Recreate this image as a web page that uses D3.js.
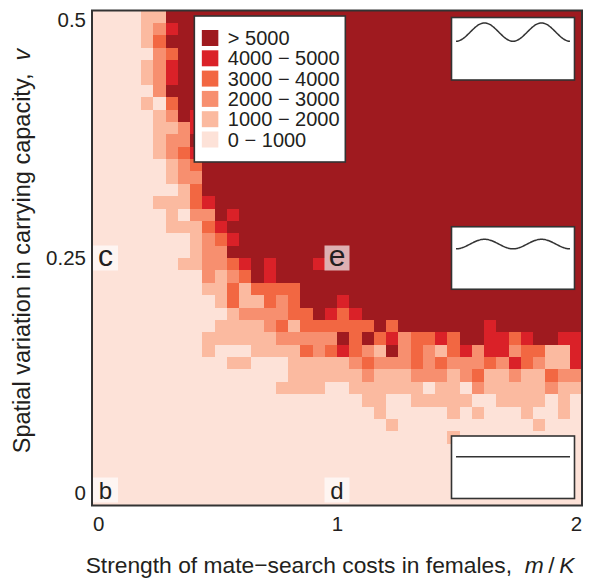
<!DOCTYPE html>
<html>
<head>
<meta charset="utf-8">
<script src="https://cdn.jsdelivr.net/npm/d3@7"></script>
<style>
  body { margin: 0; background: #fff; }
  svg text { font-family: "Liberation Sans", Arial, Helvetica, sans-serif; fill: #231f20; }
</style>
</head>
<body>
<svg id="chart" width="589" height="583"></svg>
<script>
// grid of the simulation: 40 values of m/K and 40 values of v
const mValues = d3.range(40).map(i => i * 2 / 39);
const vValues = d3.range(40).map(i => i * 0.5 / 39);

// abundance class per cell, one string per row, top row (v = 0.5) first
// 0: 0-1000, 1: 1000-2000, 2: 2000-3000, 3: 3000-4000, 4: 4000-5000, 5: > 5000
const levelRows = [
  '0000115555 5555555555 5555555555 5555555555',
  '0000124555 5555555555 5555555555 5555555555',
  '0000135555 5555555555 5555555555 5555555555',
  '0000023555 5555555555 5555555555 5555555555',
  '0000124555 5555555555 5555555555 5555555555',
  '0000124555 5555555555 5555555555 5555555555',
  '0000025555 5555555555 5555555555 5555555555',
  '0000103555 5555555555 5555555555 5555555555',
  '0000012545 5555555555 5555555555 5555555555',
  '0000011245 5555555555 5555555555 5555555555',
  '0000012255 5555555555 5555555555 5555555555',
  '0000012345 5555555555 5555555555 5555555555',
  '0000001235 5555555555 5555555555 5555555555',
  '0000001225 5555555555 5555555555 5555555555',
  '0000000135 5555555555 5555555555 5555555555',
  '0000011134 5555555555 5555555555 5555555555',
  '0000001022 5455555555 5555555555 5555555555',
  '0000001113 4555555555 5555555555 5555555555',
  '0000000012 3455555555 5555555555 5555555555',
  '0000000012 2555555555 5555555555 5555555555',
  '0000000112 2345455545 5555555555 5555555555',
  '0000000002 1235455555 5555555555 5555555555',
  '0000000001 1313333555 5555555555 5555555555',
  '0000000000 1311323555 4555555555 5555555555',
  '0000000000 0122223354 3455555555 5555555555',
  '0000000000 1111231333 3335355555 5545555555',
  '0000000001 1111122222 5353423343 5544345544',
  '0000000001 0001111323 4321523213 4244233114',
  '0000000000 0110001111 1232223232 2232432114',
  '0000000000 0000001111 1121112221 2311211322',
  '0000000000 0000011110 0111111011 0211111211',
  '0000000000 0000000000 0011001111 1001111010',
  '0000000000 0000000000 0001000001 0100010010',
  '0000000000 0000000000 0000100000 0000001000',
  '0000000000 0000000000 0000000001 0000000000',
  '0000000000 0000000000 0000000000 0000000000',
  '0000000000 0000000000 0000000000 0000000000',
  '0000000000 0000000000 0000000000 0000000000',
  '0000000000 0000000000 0000000000 0000000000',
  '0000000000 0000000000 0000000000 0000000000'
];

const levelColors = ['#fde2d8', '#fbbaa0', '#f78f6f', '#f26742', '#da2128', '#9f1a1f'];
const legendLabels = ['> 5000', '4000 \u2212 5000', '3000 \u2212 4000', '2000 \u2212 3000', '1000 \u2212 2000', '0 \u2212 1000'];
const legendLevels = [5, 4, 3, 2, 1, 0];

const xTicks = [0, 1, 2];
const yTicks = [0, 0.25, 0.5];

// panel letters (m, v)
const panelLabels = [
  { text: 'b', m: 0, v: 0, size: 24 },
  { text: 'c', m: 0, v: 0.25, size: 30 },
  { text: 'd', m: 1, v: 0, size: 24 },
  { text: 'e', m: 1, v: 0.25, size: 30 }
];

// insets: carrying capacity landscape for v = 0.5, 0.25, 0
const insetV = [0.5, 0.25, 0];
const insetPeak = [1.37, 1.2, 1];
const insetTrough = [0.93, 0.97, 1];

const margin = { top: 10.5, right: 7, bottom: 77.5, left: 92 };
const width = 589 - margin.left - margin.right;
const height = 583 - margin.top - margin.bottom;

const mStep = 2 / 39;
const vStep = 0.5 / 39;

const svg = d3.select('#chart');
const wrapper = svg.append('g')
  .attr('transform', `translate(${margin.left}, ${margin.top})`);

const x = d3.scaleLinear()
  .domain([-mStep / 2, 2 + mStep / 2])
  .range([0, width]);

const y = d3.scaleLinear()
  .domain([-vStep / 2, 0.5 + vStep / 2])
  .range([height, 0]);

const color = d3.scaleOrdinal()
  .domain(d3.range(6))
  .range(levelColors);

const cells = [];
levelRows.forEach((row, r) => {
  const levels = row.replace(/ /g, '').split('').map(Number);
  levels.forEach((level, c) => {
    cells.push({ m: mValues[c], v: vValues[39 - r], level: level });
  });
});

wrapper.append('g')
  .selectAll('rect')
  .data(cells)
  .join('rect')
  .attr('x', d => x(d.m - mStep / 2))
  .attr('y', d => y(d.v + vStep / 2))
  .attr('width', d => x(d.m + mStep / 2) - x(d.m - mStep / 2) + 0.4)
  .attr('height', d => y(d.v - vStep / 2) - y(d.v + vStep / 2) + 0.4)
  .attr('fill', d => color(d.level))
  .attr('shape-rendering', 'crispEdges');

// panel letters on translucent boxes
const labelG = wrapper.append('g')
  .selectAll('g')
  .data(panelLabels)
  .join('g')
  .attr('transform', d => {
    const cx = Math.max(x(d.m), 13.5);
    const cy = Math.min(y(d.v), height - 15.5);
    return `translate(${cx}, ${cy})`;
  });

labelG.append('rect')
  .attr('x', -12.5)
  .attr('y', -12.5)
  .attr('width', 25)
  .attr('height', 25)
  .attr('fill', '#fff')
  .attr('fill-opacity', 0.66);

labelG.append('text')
  .attr('text-anchor', 'middle')
  .attr('dy', d => d.size === 30 ? '0.25em' : '0.36em')
  .style('font-size', d => d.size + 'px')
  .text(d => d.text);

// insets
const insetW = 123;
const insetH = 62.5;
const insetK = d3.scaleLinear().domain([0, 1.5]).range([insetH, 0]);
const insetX = d3.scaleLinear().domain([0, 1]).range([4.5, insetW - 4.5]);

const insets = wrapper.append('g')
  .selectAll('g')
  .data(insetV.map((v, i) => ({ v: v, peak: insetPeak[i], trough: insetTrough[i] })))
  .join('g')
  .attr('transform', d => {
    const top = Math.min(Math.max(y(d.v) - insetH / 2, 7), height - 7 - insetH);
    return `translate(${width - 7.5 - insetW}, ${top})`;
  });

insets.append('rect')
  .attr('width', insetW)
  .attr('height', insetH)
  .attr('fill', '#fff')
  .attr('stroke', '#333')
  .attr('stroke-width', 1.6);

const curve = d3.line()
  .x(p => insetX(p[0]))
  .y(p => insetK(p[1]))
  .curve(d3.curveBasis);

insets.append('path')
  .attr('fill', 'none')
  .attr('stroke', '#333')
  .attr('stroke-width', 1.5)
  .attr('d', d => curve(d3.range(0, 1.001, 0.01).map(t =>
    [t, d.trough + (d.peak - d.trough) * (1 - Math.cos(4 * Math.PI * t)) / 2])));

// legend
const legend = wrapper.append('g')
  .attr('transform', `translate(${x(0.7) - 71}, 5.5)`);

legend.append('rect')
  .attr('width', 151)
  .attr('height', 146)
  .attr('fill', '#fff')
  .attr('stroke', '#333')
  .attr('stroke-width', 1.6);

const legendItem = legend.selectAll('g.item')
  .data(legendLabels)
  .join('g')
  .attr('class', 'item')
  .attr('transform', (d, i) => `translate(7.5, ${14 + i * 20.3})`);

legendItem.append('rect')
  .attr('width', 16.5)
  .attr('height', 16)
  .attr('fill', (d, i) => color(legendLevels[i]));

legendItem.append('text')
  .attr('x', 26)
  .attr('y', 15)
  .style('font-size', '20px')
  .text(d => d);

// frame
wrapper.append('rect')
  .attr('width', width)
  .attr('height', height)
  .attr('fill', 'none')
  .attr('stroke', '#333')
  .attr('stroke-width', 2);

// axes
const xAxis = g => g
  .call(d3.axisBottom(x)
    .tickValues(xTicks)
    .tickFormat(d3.format('d'))
    .tickSize(0)
    .tickPadding(11));

const yAxis = g => g
  .call(d3.axisLeft(y)
    .tickValues(yTicks)
    .tickFormat(d => d === 0 ? '0' : String(d))
    .tickSize(0)
    .tickPadding(6));

wrapper.append('g')
  .attr('transform', `translate(0, ${height})`)
  .call(xAxis)
  .call(g => g.select('.domain').remove())
  .call(g => g.selectAll('text').style('font-size', '20.5px').attr('fill', '#231f20')
    .style('font-family', '"Liberation Sans", Arial, sans-serif'));

wrapper.append('g')
  .call(yAxis)
  .call(g => g.select('.domain').remove())
  // keep the end labels inside the frame, as in the original figure
  .call(g => g.selectAll('.tick')
    .attr('transform', d => `translate(0, ${Math.min(Math.max(y(d), 9.5), height - 12.5)})`))
  .call(g => g.selectAll('text').style('font-size', '20.5px').attr('fill', '#231f20')
    .style('font-family', '"Liberation Sans", Arial, sans-serif'));

// axis titles
const xTitle = svg.append('text')
  .attr('x', margin.left + width / 2 - 7)
  .attr('y', 573)
  .attr('text-anchor', 'middle')
  .style('font-size', '22.8px');
xTitle.append('tspan').text('Strength of mate\u2212search costs in females,\u00a0\u00a0');
xTitle.append('tspan').style('font-style', 'italic').text('m');
xTitle.append('tspan').text('\u2009/\u2009');
xTitle.append('tspan').style('font-style', 'italic').text('K');

const yTitle = svg.append('text')
  .attr('transform', `translate(30, ${margin.top + height / 2 - 7}) rotate(-90)`)
  .attr('text-anchor', 'middle')
  .style('font-size', '23.5px');
yTitle.append('tspan').text('Spatial variation in carrying capacity,\u00a0\u00a0');
yTitle.append('tspan').style('font-style', 'italic').text('v');
</script>
</body>
</html>
